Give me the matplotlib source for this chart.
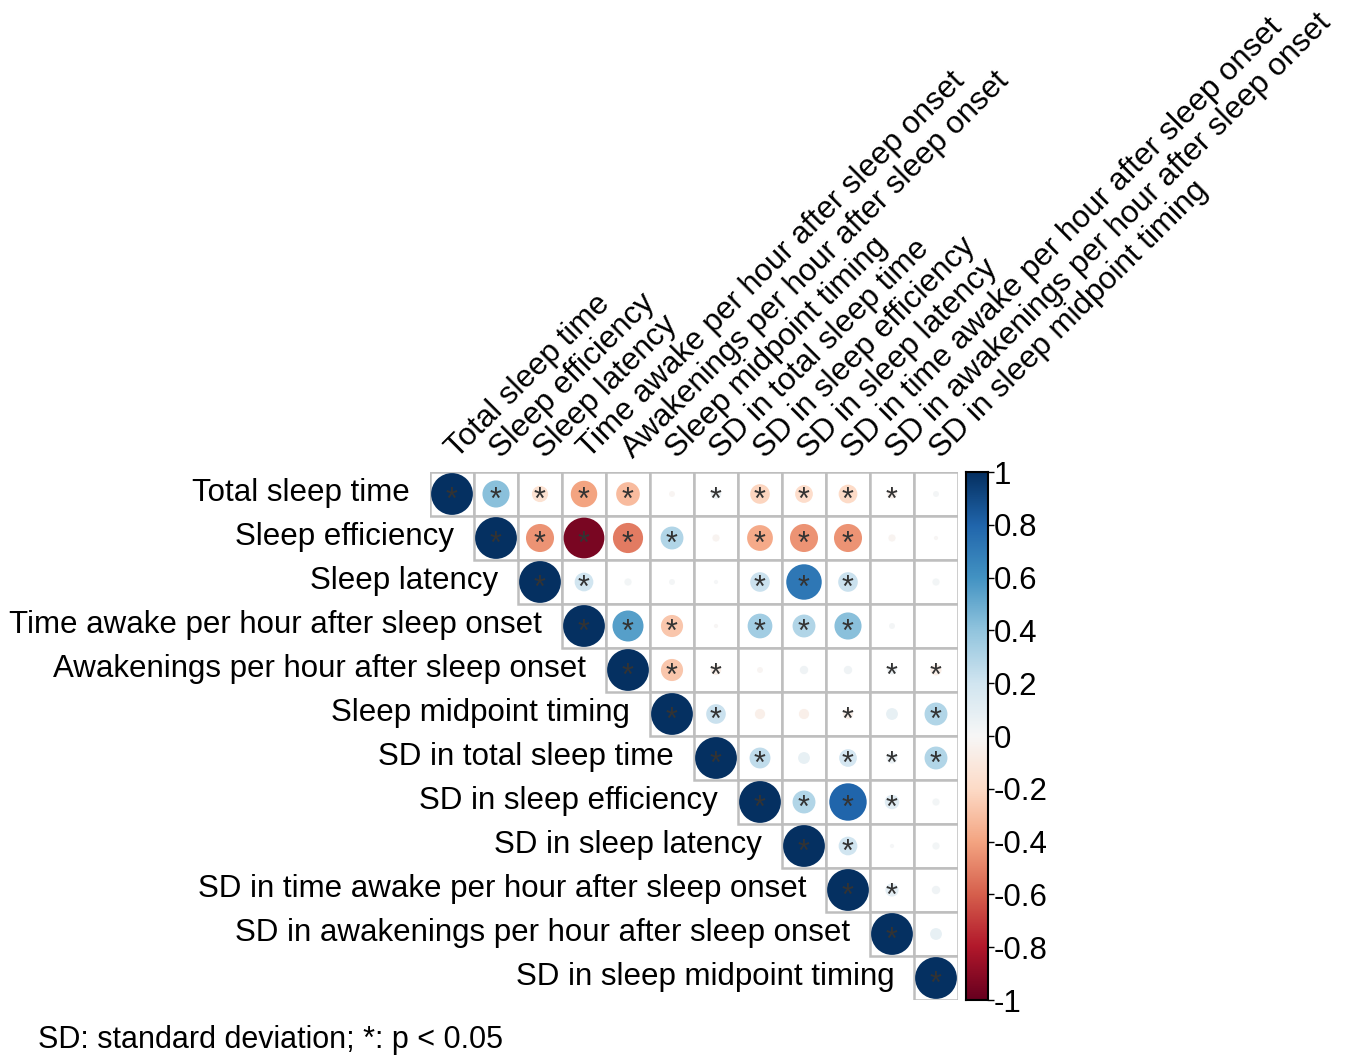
import numpy as np
import matplotlib.pyplot as plt
from matplotlib.patches import Circle, Rectangle
from matplotlib.colors import Normalize

plt.rcParams['font.family'] = ['Liberation Sans', 'DejaVu Sans']

labels = [
    'Total sleep time',
    'Sleep efficiency',
    'Sleep latency',
    'Time awake per hour after sleep onset',
    'Awakenings per hour after sleep onset',
    'Sleep midpoint timing',
    'SD in total sleep time',
    'SD in sleep efficiency',
    'SD in sleep latency',
    'SD in time awake per hour after sleep onset',
    'SD in awakenings per hour after sleep onset',
    'SD in sleep midpoint timing',
]

# upper triangle, row by row (starting at the diagonal)
r_rows = [
    [1, 0.42, -0.15, -0.40, -0.32, -0.02, 0.06, -0.22, -0.18, -0.20, -0.05, 0.02],
    [1, -0.45, -0.95, -0.52, 0.30, -0.03, -0.38, -0.45, -0.45, -0.03, -0.01],
    [1, 0.20, 0.03, 0.02, 0.01, 0.22, 0.72, 0.22, 0.00, 0.03],
    [1, 0.55, -0.28, -0.01, 0.35, 0.30, 0.42, 0.02, 0.00],
    [1, -0.28, -0.06, -0.02, 0.04, 0.04, 0.05, -0.07],
    [1, 0.22, -0.06, -0.06, -0.06, 0.08, 0.30],
    [1, 0.25, 0.08, 0.18, 0.07, 0.30],
    [1, 0.30, 0.80, 0.12, 0.03],
    [1, 0.20, 0.01, 0.03],
    [1, 0.10, 0.04],
    [1, 0.08],
    [1],
]

# p < 0.05 flags, same layout
sig_rows = [
    [1, 1, 1, 1, 1, 0, 1, 1, 1, 1, 1, 0],
    [1, 1, 1, 1, 1, 0, 1, 1, 1, 0, 0],
    [1, 1, 0, 0, 0, 1, 1, 1, 0, 0],
    [1, 1, 1, 0, 1, 1, 1, 0, 0],
    [1, 1, 1, 0, 0, 0, 1, 1],
    [1, 1, 0, 0, 1, 0, 1],
    [1, 1, 0, 1, 1, 1],
    [1, 1, 1, 1, 0],
    [1, 1, 0, 0],
    [1, 1, 0],
    [1, 0],
    [1],
]

cb_ticks = [1, 0.8, 0.6, 0.4, 0.2, 0, -0.2, -0.4, -0.6, -0.8, -1]

n = len(labels)
cmap = plt.get_cmap('RdBu')
norm = Normalize(-1, 1)
FS = 22.5

fig = plt.figure(figsize=(13.55, 10.59), dpi=100)
ax = fig.add_axes([430 / 1355, 1 - 1000 / 1059, 528 / 1355, 528 / 1059])
ax.set_xlim(0, n)
ax.set_ylim(n, 0)
ax.axis('off')

for i in range(n):
    for k, r in enumerate(r_rows[i]):
        j = i + k
        ax.add_patch(Rectangle((j, i), 1, 1, facecolor='white',
                               edgecolor='#BEBEBE', lw=1.8, zorder=1))
        rad = 0.475 * np.sqrt(abs(r))
        if rad > 0:
            ax.add_patch(Circle((j + 0.5, i + 0.5), rad, facecolor=cmap(norm(r)),
                                edgecolor='none', zorder=2))
        if sig_rows[i][k]:
            ax.text(j + 0.5, i + 0.66, '*', ha='center', va='center',
                    fontsize=22, color='#333333', zorder=3)
    # row label
    ax.text(i - 0.45, i + 0.47, labels[i], ha='right', va='center',
            fontsize=FS, clip_on=False)
    # column label
    ax.text(i + 0.72, -0.18, labels[i], ha='left', va='bottom', rotation=45,
            rotation_mode='anchor', fontsize=FS, clip_on=False)

cax = fig.add_axes([966 / 1355, 1 - 1000 / 1059, 22 / 1355, 528 / 1059])
grad = np.linspace(-1, 1, 256).reshape(-1, 1)
cax.imshow(grad, cmap=cmap, norm=norm, aspect='auto', origin='lower',
           extent=[0, 1, -1, 1])
cax.set_xticks([])
cax.yaxis.tick_right()
cax.set_yticks(cb_ticks)
cax.set_yticklabels([('%g' % t) for t in cb_ticks], fontsize=FS)
cax.tick_params(axis='y', length=4, width=1, pad=0)
for s in cax.spines.values():
    s.set_linewidth(1.5)

fig.text(38 / 1355, 1 - 1040 / 1059, 'SD: standard deviation; *: p < 0.05',
         fontsize=22, va='center', ha='left')

fig.savefig('out.png', dpi=100)
